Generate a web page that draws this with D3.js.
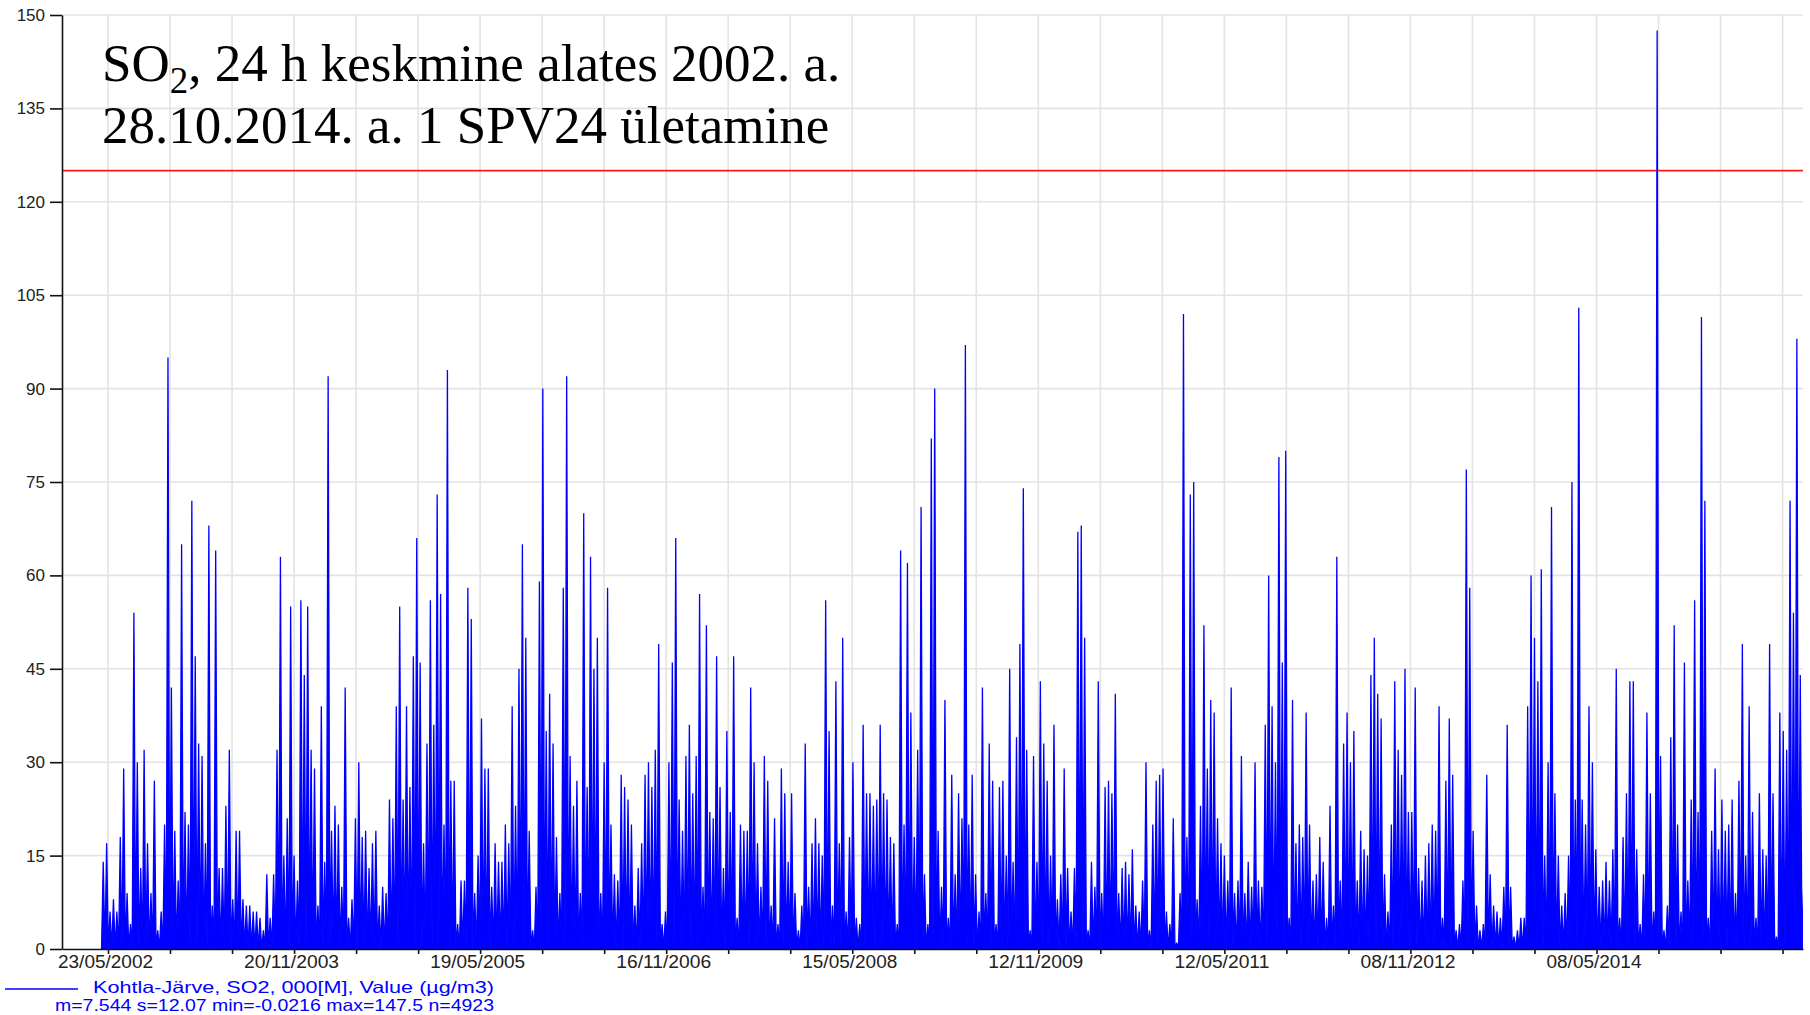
<!DOCTYPE html>
<html><head><meta charset="utf-8">
<script src="https://cdn.jsdelivr.net/npm/d3@7"></script>
<style>
html,body{margin:0;padding:0;background:#fff;}
svg{display:block;}
</style>
</head><body>
<svg id="chart" width="1810" height="1015"></svg>
<script>
// ---- DATA (maximum of each 10-day window, µg/m3) ----
const seriesStart = "2002-05-04";
const windowDays = 10;
const tenDayMax1  = [14,17,6,8,6,18,29,9,4,54, 30,13,32,17,9,27,3,6,20,95, 42,19,11,65,22,20,72,47,33,31, 17,68,7,64,13,13,23,32,8,19, 19,8,7,7,6,6,5,3,12,5];
const tenDayMax2  = [12,32,63,15,21,55,15,11,56,44, 55,32,29,7,39,14,92,19,23,20, 10,42,5,8,21,30,18,19,13,17, 19,7,10,9,24,21,39,55,24,39, 26,47,66,46,17,33,56,36,73,57];
const tenDayMax3  = [20,93,27,27,4,11,11,58,53,9, 15,37,29,29,10,17,14,14,20,17, 39,23,45,65,50,19,3,10,59,90, 35,41,33,18,9,58,92,31,23,27, 9,70,26,63,45,50,9,30,58,20];
const tenDayMax4  = [12,11,28,26,24,20,7,13,17,28, 30,26,32,49,4,6,30,46,66,24, 19,31,36,25,31,57,10,52,22,21, 47,26,13,35,22,47,5,20,19,19, 42,30,17,10,31,27,7,21,4,29];
const tenDayMax5  = [25,14,25,9,3,7,33,10,17,21, 17,15,56,35,7,43,17,50,6,18, 30,5,4,36,25,25,23,24,36,25, 24,18,17,4,64,20,62,38,18,32, 71,12,4,82,90,19,10,40,5,28];
const tenDayMax6  = [12,25,21,97,20,28,12,6,42,9, 33,27,4,26,27,15,45,14,34,49, 74,32,3,31,14,43,33,27,15,36, 8,12,29,13,6,13,67,68,50,3, 14,10,43,9,26,27,25,41,9,13];
const tenDayMax7  = [14,12,16,7,6,11,30,3,20,27, 28,29,6,4,21,1,9,102,18,73, 75,8,23,52,29,40,38,21,17,15, 11,42,9,11,31,9,14,10,30,11, 10,36,60,39,30,79,46,80,5,40];
const tenDayMax8  = [17,20,18,38,20,11,12,18,14,5, 23,7,63,11,33,38,30,35,11,19, 16,15,44,50,41,37,12,6,20,43, 32,28,45,22,22,42,13,11,15,17, 20,19,39,5,27,37,28,3,4,11];
const tenDayMax9  = [77,58,19,7,3,4,28,12,7,6, 5,10,36,10,2,3,5,5,39,60, 50,43,61,15,30,71,25,15,7,9, 15,75,24,103,24,20,39,30,16,10, 11,14,11,16,45,5,18,25,43,43];
const tenDayMax10 = [16,4,12,38,25,6,147.5,31,3,7, 34,52,20,6,46,11,24,56,22,101.5, 72,5,19,29,16,24,19,20,24,9, 27,49,15,39,22,5,25,16,15,49, 25,2,38,35,32,72,54,98,44,10];
const troughValue = 0;

const yTicks = [0,15,30,45,60,75,90,105,120,135,150];
const xTickStart = "2002-05-23";
const xTickStepDays = 182;
const xTickLabels = ["23/05/2002","20/11/2003","19/05/2005","16/11/2006","15/05/2008","12/11/2009","12/05/2011","08/11/2012","08/05/2014"];
const xDomain = ["2002-01-08","2016-01-04"];
const yDomain = [0,150];
const limitValue = 125;
const titleLine1 = ["SO", "2", ", 24 h keskmine alates 2002. a."];
const titleLine2 = "28.10.2014. a. 1 SPV24 ületamine";
const legendLine1 = "Kohtla-Järve, SO2, 000[M], Value (µg/m3)";
const legendLine2 = "m=7.544 s=12.07 min=-0.0216 max=147.5 n=4923";

// ---- CHART ----
const DAY = 864e5;
const L = 62, R = 1803, T = 15, B = 949;
const svg = d3.select("#chart");
const x = d3.scaleUtc().domain(xDomain.map(d => new Date(d + "T00:00:00Z"))).range([L, R]);
const y = d3.scaleLinear().domain(yDomain).range([B, T]);

const windows = [].concat(tenDayMax1, tenDayMax2, tenDayMax3, tenDayMax4, tenDayMax5,
                          tenDayMax6, tenDayMax7, tenDayMax8, tenDayMax9, tenDayMax10);
const t0 = Date.parse(seriesStart + "T00:00:00Z");
const pts = [];
windows.forEach((v, i) => {
  const s = t0 + i * windowDays * DAY;
  pts.push([new Date(s), troughValue]);
  pts.push([new Date(s + windowDays / 2 * DAY), v]);
});
pts.push([new Date(t0 + windows.length * windowDays * DAY), troughValue]);

const tickStart = Date.parse(xTickStart + "T00:00:00Z");
const tickDates = d3.range(0, 40).map(k => new Date(tickStart + k * xTickStepDays * DAY))
  .filter(d => d <= x.domain()[1]);

// clip
svg.append("defs").append("clipPath").attr("id", "plotclip")
  .append("rect").attr("x", L).attr("y", T).attr("width", R - L).attr("height", B - T);

// gridlines
const grid = svg.append("g").attr("stroke", "#e3e3e3").attr("stroke-width", 1.6);
grid.selectAll("line.h").data(yTicks.filter(v => v > 0)).join("line")
  .attr("x1", L).attr("x2", R).attr("y1", d => y(d)).attr("y2", d => y(d));
grid.selectAll("line.v").data(tickDates).join("line")
  .attr("x1", d => x(d)).attr("x2", d => x(d)).attr("y1", T).attr("y2", B);

// title
const title = svg.append("g").attr("font-family", "'Liberation Serif','Times New Roman',serif")
  .attr("fill", "#000");
const t1 = title.append("text").attr("x", 102).attr("y", 81).attr("font-size", 53);
t1.append("tspan").text(titleLine1[0]);
t1.append("tspan").attr("font-size", 37).attr("dy", 12).text(titleLine1[1]);
t1.append("tspan").attr("dy", -12).text(titleLine1[2]);
title.append("text").attr("x", 102).attr("y", 143).attr("font-size", 53).text(titleLine2);

// limit line
svg.append("line").attr("x1", L).attr("x2", R).attr("y1", y(limitValue)).attr("y2", y(limitValue))
  .attr("stroke", "#ff1a1a").attr("stroke-width", 1.6);

// series: window maxima drawn as dense spikes from the baseline
const area = d3.area().x(d => x(d[0])).y0(y(0)).y1(d => y(d[1]));
const line = d3.line().x(d => x(d[0])).y(d => y(d[1]));
const series = svg.append("g").attr("clip-path", "url(#plotclip)");
series.append("path").datum(pts).attr("d", area).attr("fill", "#0000ff");
series.append("path").datum(pts).attr("d", line).attr("fill", "none").attr("stroke", "#0000ff")
  .attr("stroke-width", 1.3).attr("stroke-linejoin", "miter").attr("stroke-miterlimit", 2);

// axes
const axisFont = "'Liberation Sans',Arial,sans-serif";
const yAxis = svg.append("g").attr("transform", `translate(${L},0)`)
  .call(d3.axisLeft(y).tickValues(yTicks).tickSize(12).tickSizeOuter(0).tickPadding(5));
yAxis.select(".domain").attr("stroke", "#111").attr("stroke-width", 1.6);
yAxis.selectAll(".tick line").attr("stroke", "#111").attr("stroke-width", 1.6);
yAxis.selectAll(".tick text").attr("font-family", axisFont).attr("font-size", 17).attr("fill", "#222");

const xAxis = svg.append("g").attr("transform", `translate(0,${B})`)
  .call(d3.axisBottom(x).tickValues(tickDates).tickSize(5).tickSizeOuter(0).tickPadding(1)
    .tickFormat((d, i) => i % 3 === 0 ? (xTickLabels[i / 3] || "") : ""));
xAxis.select(".domain").attr("stroke", "#111").attr("stroke-width", 1.6);
xAxis.selectAll(".tick line").attr("stroke", "#111").attr("stroke-width", 1.6);
xAxis.selectAll(".tick text").attr("font-family", axisFont).attr("font-size", 18).attr("fill", "#222")
  .attr("dx", -3).each(function () {
    if (this.textContent) d3.select(this).attr("textLength", 95).attr("lengthAdjust", "spacingAndGlyphs");
  });

// legend
const leg = svg.append("g").attr("font-family", axisFont).attr("fill", "#0000ff").attr("font-size", 16.5);
leg.append("line").attr("x1", 5).attr("x2", 78).attr("y1", 989).attr("y2", 989)
  .attr("stroke", "#0000ff").attr("stroke-width", 1.5);
leg.append("text").attr("x", 93).attr("y", 993).attr("textLength", 401)
  .attr("lengthAdjust", "spacingAndGlyphs").text(legendLine1);
leg.append("text").attr("x", 55).attr("y", 1011).attr("textLength", 439)
  .attr("lengthAdjust", "spacingAndGlyphs").text(legendLine2);
</script>
</body></html>
